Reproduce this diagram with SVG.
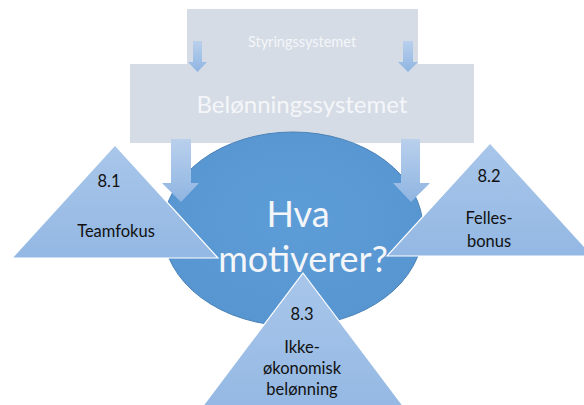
<svg xmlns="http://www.w3.org/2000/svg" width="584" height="405" viewBox="0 0 584 405">
  <defs>
    <linearGradient id="arrowFill" x1="0" y1="0" x2="0" y2="1">
      <stop offset="0" stop-color="#b9d0ec"/>
      <stop offset="1" stop-color="#8fb5e2"/>
    </linearGradient>
    <linearGradient id="triFill" x1="0" y1="0" x2="0" y2="1">
      <stop offset="0" stop-color="#a9c6ea"/>
      <stop offset="1" stop-color="#93b8e3"/>
    </linearGradient>
    <radialGradient id="ellFill" cx="0.5" cy="0.45" r="0.6">
      <stop offset="0" stop-color="#5d9dd7"/>
      <stop offset="1" stop-color="#5795d0"/>
    </radialGradient>
    <style>
      .box { fill: #d6dce5; }
      .arrow { fill: url(#arrowFill); }
      .tri { fill: url(#triFill); stroke: #ffffff; stroke-width: 1.2; }
      .lbl { font-family: Lato, "Liberation Sans", sans-serif; fill: #111111; font-size: 16.5px; text-anchor: middle; }
      .white { font-family: Lato, "Liberation Sans", sans-serif; fill: #f4f6f9; text-anchor: middle; }
    </style>
  </defs>

  <!-- control system (back panel) -->
  <g id="styring">
    <rect class="box" x="187" y="9" width="231" height="60"/>
    <text class="white" x="302" y="47" font-size="14.5">Styringssystemet</text>
  </g>

  <!-- reward system panel -->
  <g id="belonning">
    <rect class="box" x="130" y="64" width="344" height="79"/>
    <text class="white" x="302" y="113" font-size="24">Belønningssystemet</text>
  </g>

  <!-- central question -->
  <g id="hva-motiverer">
    <ellipse cx="293" cy="229" rx="130" ry="97" fill="url(#ellFill)" stroke="#4a82b8" stroke-width="1"/>
    <text class="white" x="298" y="227" font-size="36" fill="#ffffff">Hva</text>
    <text class="white" x="303" y="272" font-size="36" fill="#ffffff">motiverer?</text>
  </g>

  <!-- connectors: block arrows -->
  <g id="connectors">
    <path class="arrow" d="M193,41 H202 V62 H207 L197.5,72 L188,62 H193 Z"/>
    <path class="arrow" d="M403,41 H413 V62 H418 L408,72 L398,62 H403 Z"/>
    <path class="arrow" d="M171,139 H191 V183 H199 L181,202 L162,183 H171 Z"/>
    <path class="arrow" d="M401,139 H420 V183 H430 L411,202 L393,183 H401 Z"/>
  </g>

  <!-- 8.1 -->
  <g id="tri-8-1">
    <polygon class="tri" points="115,145 218,258 12,258"/>
    <text class="lbl" x="109" y="187">8.1</text>
    <text class="lbl" x="116" y="237">Teamfokus</text>
  </g>

  <!-- 8.2 -->
  <g id="tri-8-2">
    <polygon class="tri" points="490,143 593,256 387,256"/>
    <text class="lbl" x="489" y="182">8.2</text>
    <text class="lbl" x="489" y="224">Felles-</text>
    <text class="lbl" x="489" y="247">bonus</text>
  </g>

  <!-- 8.3 -->
  <g id="tri-8-3">
    <polygon class="tri" points="303,273 410,415 196,415"/>
    <text class="lbl" x="302" y="320">8.3</text>
    <text class="lbl" x="302" y="353">Ikke-</text>
    <text class="lbl" x="302" y="374">økonomisk</text>
    <text class="lbl" x="302" y="395">belønning</text>
  </g>
</svg>
